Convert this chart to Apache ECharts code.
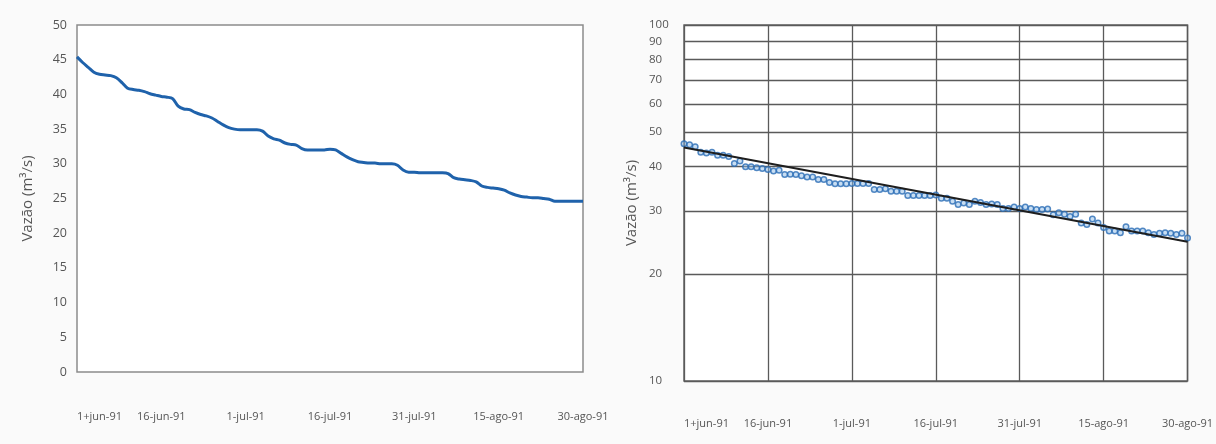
<!DOCTYPE html>
<html>
<head>
<meta charset="utf-8">
<script src="https://cdn.jsdelivr.net/npm/echarts@6/dist/echarts.min.js"></script>
<style>
  html, body { margin: 0; padding: 0; background: #fafafa; }
  #chart { width: 1216px; height: 444px; }
</style>
</head>
<body>
<div id="chart"></div>
<script>
// Daily discharge (m³/s), 1-jun-91 .. 30-ago-91 (91 days), as read from the left (linear) plot
const flow = [
  45.4, 44.6, 43.9, 43.2, 42.9, 42.8, 42.7, 42.4, 41.7, 40.9,
  40.7, 40.6, 40.4, 40.1, 39.9, 39.7, 39.6, 39.4, 38.3, 37.9,
  37.8, 37.4, 37.1, 36.9, 36.6, 36.1, 35.6, 35.2, 35.0, 34.9,
  34.9, 34.9, 34.9, 34.7, 34.0, 33.6, 33.4, 33.0, 32.8, 32.7,
  32.2, 32.0, 32.0, 32.0, 32.0, 32.1, 32.0, 31.5, 31.0, 30.6,
  30.3, 30.2, 30.1, 30.1, 30.0, 30.0, 30.0, 29.8, 29.1, 28.8,
  28.8, 28.7, 28.7, 28.7, 28.7, 28.7, 28.6, 28.0, 27.8, 27.7,
  27.6, 27.4, 26.8, 26.6, 26.5, 26.4, 26.2, 25.8, 25.5, 25.3,
  25.2, 25.1, 25.1, 25.0, 24.9, 24.6, 24.6, 24.6, 24.6, 24.6,
  24.6
];
// Daily discharge (m³/s) as read from the points of the right (semi-log) plot
const flowPoints = [
  46.4, 46.1, 45.5, 43.9, 43.7, 43.9, 43.1, 43.1, 42.7, 40.8,
  41.5, 40.0, 40.0, 39.7, 39.5, 39.3, 38.9, 39.1, 38.0, 38.1,
  38.0, 37.7, 37.4, 37.4, 36.8, 36.8, 36.1, 35.8, 35.8, 35.8,
  35.9, 35.9, 35.9, 35.9, 34.5, 34.5, 34.7, 34.1, 34.1, 34.1,
  33.2, 33.2, 33.2, 33.2, 33.2, 33.3, 32.6, 32.6, 32.0, 31.3,
  31.6, 31.3, 32.0, 31.7, 31.3, 31.4, 31.3, 30.5, 30.5, 30.8,
  30.5, 30.8, 30.5, 30.3, 30.3, 30.4, 29.3, 29.7, 29.4, 29.0,
  29.4, 27.8, 27.5, 28.5, 27.8, 27.0, 26.4, 26.4, 26.1, 27.1,
  26.4, 26.4, 26.4, 26.1, 25.8, 26.0, 26.1, 26.0, 25.8, 26.0,
  25.2
];
// Exponential recession fit (straight on the semi-log plot): values at first and last day
const fitDays = [0, 90];
const fitValues = [45.3, 24.6];
// x tick labels, one every 15 days
const tickLabels = ['1+jun-91', '16-jun-91', '1-jul-91', '16-jul-91', '31-jul-91', '15-ago-91', '30-ago-91'];
const tickStep = 15;
// semi-log y ticks
const logTicks = [10, 20, 30, 40, 50, 60, 70, 80, 90, 100];

const flowPairs = flow.map((v, i) => [i, v]);
const pointPairs = flowPoints.map((v, i) => [i, v]);
const fitPairs = fitDays.map((d, i) => [d, fitValues[i]]);
const FONT = 'Open Sans';
const fmtX = v => tickLabels[Math.round(v / tickStep)] || '';

const chart = echarts.init(document.getElementById('chart'), null, { renderer: 'canvas' });
chart.setOption({
  backgroundColor: '#fafafa',
  animation: false,
  textStyle: { fontFamily: FONT },
  grid: [
    { left: 77, top: 25, width: 506, height: 347, show: true, backgroundColor: '#fff',
      borderColor: '#8c8c8c', borderWidth: 1.5 },
    { left: 684, top: 25, width: 504, height: 356, show: true, backgroundColor: '#fff',
      borderColor: '#666', borderWidth: 1.5 }
  ],
  xAxis: [
    { gridIndex: 0, type: 'value', min: 0, max: 90, interval: tickStep,
      axisLine: { show: false }, axisTick: { show: false }, splitLine: { show: false },
      axisLabel: { formatter: fmtX, margin: 39, fontSize: 11, color: '#555', fontFamily: FONT,
                   alignMinLabel: 'left', alignMaxLabel: 'center' } },
    { gridIndex: 1, type: 'value', min: 0, max: 90, interval: tickStep,
      axisLine: { show: false }, axisTick: { show: false },
      splitLine: { show: true, lineStyle: { color: '#5a5a5a', width: 1.3 } },
      axisLabel: { formatter: fmtX, margin: 37, fontSize: 11, color: '#555', fontFamily: FONT,
                   alignMinLabel: 'left', alignMaxLabel: 'center' } }
  ],
  yAxis: [
    { gridIndex: 0, type: 'value', min: 0, max: 50, interval: 5,
      name: 'Vazão (m³/s)', nameLocation: 'middle', nameGap: 42,
      nameTextStyle: { fontSize: 15, color: '#555', fontFamily: FONT },
      axisLine: { show: false }, axisTick: { show: false }, splitLine: { show: false },
      axisLabel: { margin: 10, fontSize: 12.5, color: '#555', fontFamily: FONT } },
    { gridIndex: 1, type: 'log', logBase: 10, min: 10, max: 100,
      name: 'Vazão (m³/s)', nameLocation: 'middle', nameGap: 45,
      nameTextStyle: { fontSize: 15, color: '#555', fontFamily: FONT },
      axisLine: { show: false },
      axisTick: { show: false, customValues: logTicks },
      splitLine: { show: true, lineStyle: { color: '#5a5a5a', width: 1.3 } },
      axisLabel: { customValues: logTicks, align: 'left', margin: 35, fontSize: 11.5,
                   color: '#555', fontFamily: FONT } }
  ],
  series: [
    { type: 'line', xAxisIndex: 0, yAxisIndex: 0, data: flowPairs, smooth: 0.3,
      showSymbol: false, lineStyle: { color: '#1f62ab', width: 3 } },
    { type: 'scatter', xAxisIndex: 1, yAxisIndex: 1, data: pointPairs, symbol: 'circle',
      symbolSize: 5.5, z: 3,
      itemStyle: { color: 'rgba(140,185,230,0.6)', borderColor: '#2a6db5', borderWidth: 1.5 } },
    { type: 'line', xAxisIndex: 1, yAxisIndex: 1, data: fitPairs, showSymbol: false, z: 4,
      lineStyle: { color: '#1e1e1e', width: 2 } }
  ]
});
</script>
</body>
</html>
